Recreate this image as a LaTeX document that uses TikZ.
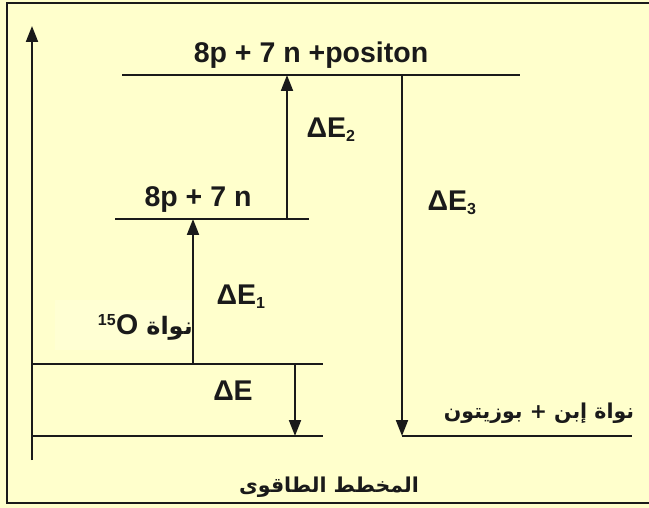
\documentclass[tikz,border=0pt]{standalone}
\usepackage{fontspec}
\setmainfont{Liberation Sans}
\newfontfamily\arabicfont[Script=Arabic]{DejaVu Sans}
\TeXXeTstate=1
\usetikzlibrary{arrows.meta}
\definecolor{bgyellow}{HTML}{FFFFCC}
\definecolor{ink}{HTML}{1A1A1A}
\begin{document}
\begin{tikzpicture}[x=1pt,y=-1pt,
  lvl/.style={line width=2pt,draw=ink},
  arr/.style={line width=2pt,draw=ink,-{Triangle[width=12pt,length=16pt]}},
  lbl/.style={inner sep=0pt,text=ink,font=\bfseries\fontsize{28.5}{32}\selectfont},
  de/.style={inner sep=0pt,text=ink,font=\bfseries\fontsize{28.5}{32}\selectfont},
  ar/.style={inner sep=0pt,text=ink,font=\arabicfont\bfseries\fontsize{20.5}{24}\selectfont}]
\useasboundingbox (0,0) rectangle (649,508);
\fill[bgyellow] (0,0) rectangle (649,508);
\draw[line width=2.5pt,draw=ink] (660,3) -- (7,3) -- (7,503) -- (660,503);
% coordinates
\coordinate (axb) at (32,460); \coordinate (axt) at (32,26);
\coordinate (g1) at (32,436);  \coordinate (g2) at (323,436);
\coordinate (o1) at (32,364);  \coordinate (o2) at (323,364);
\coordinate (m1) at (115,219); \coordinate (m2) at (309,219);
\coordinate (t1) at (122,75);  \coordinate (t2) at (520,75);
\coordinate (p1) at (402,436); \coordinate (p2) at (632,436);
\coordinate (e1s) at (193,364); \coordinate (e1e) at (193,219);
\coordinate (e2s) at (287,219); \coordinate (e2e) at (287,75);
\coordinate (es) at (295,364);  \coordinate (ee) at (295,436);
\coordinate (e3s) at (402,75);  \coordinate (e3e) at (402,436);
% label background
\fill[white,opacity=0.15] (55,300) rectangle (191,350);
% levels
\draw[lvl] (g1) -- (g2);
\draw[lvl] (o1) -- (o2);
\draw[lvl] (m1) -- (m2);
\draw[lvl] (t1) -- (t2);
\draw[lvl] (p1) -- (p2);
% arrows
\draw[arr] (axb) -- (axt);
\draw[arr] (e1s) -- (e1e);
\draw[arr] (e2s) -- (e2e);
\draw[arr] (es) -- (ee);
\draw[arr] (e3s) -- (e3e);
% labels
\node[lbl] (top) at (311,55) {8p + 7 n +positon};
\node[lbl] (mid) at (198,200) {8p + 7 n};
\node[de] (d2) at (331,130) {ΔE\textsubscript{\fontsize{16}{16}\selectfont 2}};
\node[de] (d3) at (452,203) {ΔE\textsubscript{\fontsize{16}{16}\selectfont 3}};
\node[de] (d1) at (241,297) {ΔE\textsubscript{\fontsize{16}{16}\selectfont 1}};
\node[de] (d0) at (233,391) {ΔE};
\node[anchor=east,inner sep=0pt,text=ink] (o15) at (193,327)
  {{\bfseries\fontsize{28.5}{32}\selectfont\textsuperscript{\fontsize{16}{16}\selectfont 15}O}\hspace{8pt}{\arabicfont\bfseries\fontsize{24}{28}\selectfont\beginR نواة\endR}};
\node[ar] (prod) at (539,413) {\beginR نواة إبن + بوزيتون\endR};
\node[ar] (cap) at (329,487) {\beginR المخطط الطاقوى\endR};
\end{tikzpicture}
\end{document}
